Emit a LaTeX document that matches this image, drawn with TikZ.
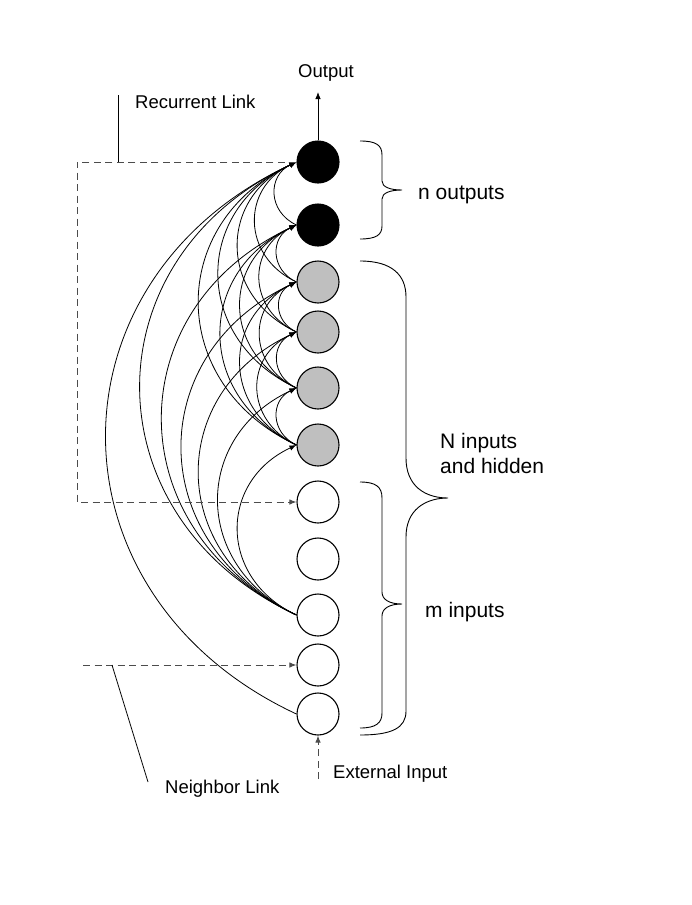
\documentclass[tikz,border=0pt]{standalone}
\usepackage{fontspec}
\setmainfont{Liberation Sans}
\usetikzlibrary{arrows.meta,positioning,calc}

\begin{document}
\begin{tikzpicture}[x=1pt,y=-1pt,
    neuron/.style={circle,draw,line width=1.1pt,minimum size=42pt,inner sep=0pt},
    outnode/.style={neuron,fill=black},
    hidnode/.style={neuron,fill=gray!50},
    innode/.style={neuron,fill=white},
    link/.style={-{Latex[length=7pt,width=5.5pt]},line width=0.8pt},
    arc/.style={link,bend left=65,looseness=1.3},
    dashlink/.style={line width=1pt,draw=gray!60!black,dash pattern=on 7pt off 4.5pt},
    lbl/.style={font=\fontsize{18.5}{22}\selectfont,inner sep=0pt},
    blbl/.style={font=\fontsize{21}{25}\selectfont,inner sep=0pt,align=left}]
  \useasboundingbox (0,0) rectangle (692,905);
  % neurons, top to bottom
  \node[outnode] (o1) at (318,162) {};
  \node[outnode] (o2) at (318,225) {};
  \node[hidnode] (h1) at (318,282) {};
  \node[hidnode] (h2) at (318,332) {};
  \node[hidnode] (h3) at (318,388) {};
  \node[hidnode] (h4) at (318,445) {};
  \node[innode]  (i1) at (318,502) {};
  \node[innode]  (i2) at (318,559) {};
  \node[innode]  (i3) at (318,615) {};
  \node[innode]  (i4) at (318,665) {};
  \node[innode]  (i5) at (318,714) {};
  %
  % forward links
  \foreach \s/\t in {i3/h4,i3/h3,i3/h2,i3/h1,i3/o2,i3/o1,i5/o1,
                     h4/h3,h4/h2,h4/h1,h4/o2,h4/o1,
                     h3/h2,h3/h1,h3/o2,h3/o1,
                     h2/h1,h2/o2,h2/o1,
                     h1/o2,h1/o1,o2/o1}
    \draw[arc] (\s.west) to (\t.west);
  %
  % output
  \coordinate (outtip) at (318,92);
  \draw[link] (o1.north) -- (outtip);
  \node[lbl] (outlbl) at (326,73) {Output};
  %
  % recurrent link
  \coordinate (rcorner) at (77,162);
  \draw[dashlink,-{Latex[length=7pt,width=5.5pt]}] (o1.west) -- (rcorner) |- (i1.west);
  \coordinate (rtick) at (118,162);
  \coordinate (rtop) at (118,95);
  \draw[line width=0.8pt] (rtick) -- (rtop);
  \node[lbl,anchor=west] (rlbl) at (135,102) {Recurrent Link};
  %
  % neighbor link
  \coordinate (nstart) at (83,665);
  \draw[dashlink,-{Latex[length=7pt,width=5.5pt]}] (nstart) -- (i4.west);
  \coordinate (ntick) at (112,665);
  \coordinate (nend) at (148,782);
  \draw[line width=0.8pt] (ntick) -- (nend);
  \node[lbl,anchor=west] (nlbl) at (165,789) {Neighbor Link};
  %
  % external input
  \coordinate (extin) at (318,779);
  \draw[dashlink,-{Latex[length=7pt,width=5.5pt]}] (extin) -- (i5.south);
  \node[lbl,anchor=west] (elbl) at (333,774) {External Input};
  %
  % braces
  \draw[line width=0.9pt] (360,141) .. controls (376,141) and (382,145) .. (382,155)
    -- (382,181) .. controls (382,187) and (390,190) .. (402,190)
    .. controls (390,190) and (382,193) .. (382,199)
    -- (382,226) .. controls (382,235) and (376,239) .. (360,239);
  \draw[line width=0.9pt] (360,261) .. controls (392,261) and (406,275) .. (406,297)
    -- (406,458) .. controls (406,486) and (425,498) .. (448,498)
    .. controls (425,498) and (406,510) .. (406,537)
    -- (406,711) .. controls (406,728) and (392,735) .. (360,735);
  \draw[line width=0.9pt] (360,482) .. controls (376,482) and (382,487) .. (382,498)
    -- (382,592) .. controls (382,600) and (390,604) .. (402,604)
    .. controls (390,604) and (382,608) .. (382,616)
    -- (382,713) .. controls (382,723) and (376,728) .. (360,728);
  \node[blbl,anchor=west] (nout) at (418,195) {n outputs};
  \node[blbl,anchor=west] (nhid) at (440,453) {N inputs\\and hidden};
  \node[blbl,anchor=west] (min) at (425,612) {m inputs};
\end{tikzpicture}
\end{document}
